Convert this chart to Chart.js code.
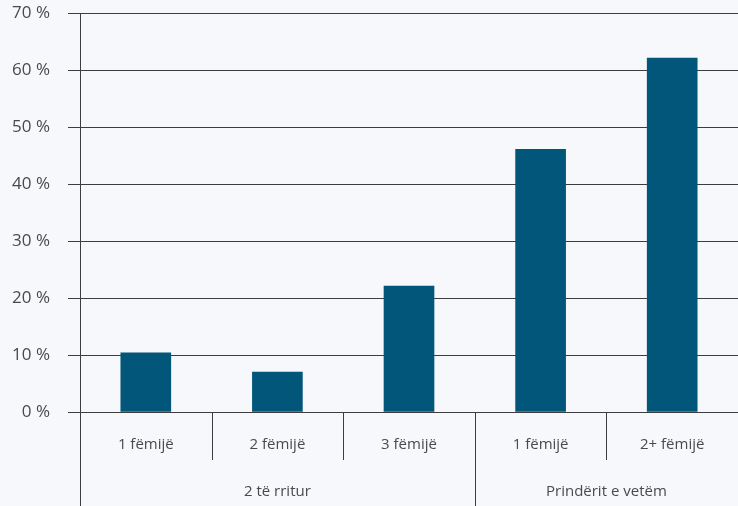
<!DOCTYPE html>
<html lang="sq">
<head>
    <meta charset="UTF-8">
    <title>Fëmijë sipas llojit të familjes</title>
    <style>
        html, body {
            margin: 0;
            padding: 0;
            background-color: #f6f8fb;
        }
        #chart {
            display: block;
        }
    </style>
    <script src="https://cdn.jsdelivr.net/npm/chart.js"></script>
</head>
<body>
    <canvas id="chart" width="738" height="506"></canvas>

    <script>
        // të dhënat
        const categories = ['1 fëmijë', '2 fëmijë', '3 fëmijë', '1 fëmijë', '2+ fëmijë'];
        const groups = ['2 të rritur', '2 të rritur', '2 të rritur', 'Prindërit e vetëm', 'Prindërit e vetëm'];
        const values = [10.4, 7.0, 22.1, 46.1, 62.1];
        const yTicks = [0, 10, 20, 30, 40, 50, 60, 70];

        const textColor = '#4a4a4a';
        const lineColor = '#3d3d3d';
        const font = '15px "Open Sans", sans-serif';

        // boshti x me dy nivele dhe ndarësit
        const groupAxis = {
            id: 'groupAxis',
            afterDraw(chart) {
                const ctx = chart.ctx;
                const area = chart.chartArea;
                const x = chart.scales.x;
                const H = chart.height;
                const n = categories.length;
                const edge = i => {
                    if (i <= 0) return area.left;
                    if (i >= n) return area.right;
                    return (x.getPixelForTick(i - 1) + x.getPixelForTick(i)) / 2;
                };

                ctx.save();
                ctx.strokeStyle = lineColor;
                ctx.lineWidth = 1;
                ctx.beginPath();
                // vija e boshtit y deri poshtë
                const ax = Math.round(area.left) + 0.5;
                ctx.moveTo(ax, area.top);
                ctx.lineTo(ax, H);
                for (let i = 1; i < n; i++) {
                    const px = Math.round(edge(i)) + 0.5;
                    ctx.moveTo(px, area.bottom);
                    ctx.lineTo(px, groups[i] !== groups[i - 1] ? H : area.bottom + 48);
                }
                ctx.stroke();

                ctx.fillStyle = textColor;
                ctx.font = font;
                ctx.textAlign = 'center';
                ctx.textBaseline = 'middle';
                categories.forEach((c, i) => {
                    ctx.fillText(c, x.getPixelForTick(i), area.bottom + 33);
                });

                let start = 0;
                for (let i = 1; i <= n; i++) {
                    if (i === n || groups[i] !== groups[start]) {
                        ctx.fillText(groups[start], (edge(start) + edge(i)) / 2, area.bottom + 80);
                        start = i;
                    }
                }
                ctx.restore();
            }
        };

        new Chart(document.getElementById('chart'), {
            type: 'bar',
            data: {
                labels: categories,
                datasets: [{
                    data: values,
                    backgroundColor: '#01567a',
                    barThickness: 50,
                    borderWidth: 0
                }]
            },
            options: {
                responsive: false,
                animation: false,
                layout: {
                    padding: { top: 13, right: 0, left: 0, bottom: 0 }
                },
                plugins: {
                    legend: { display: false },
                    tooltip: { enabled: false }
                },
                scales: {
                    x: {
                        grid: { display: false },
                        border: { display: false },
                        ticks: { display: false },
                        afterFit(scale) { scale.height = 94; }
                    },
                    y: {
                        min: 0,
                        max: 70,
                        afterBuildTicks(scale) {
                            scale.ticks = yTicks.map(v => ({ value: v }));
                        },
                        afterFit(scale) {
                            scale.width = 80;
                            scale.paddingTop = 0;
                            scale.paddingBottom = 0;
                        },
                        grid: {
                            color: lineColor,
                            lineWidth: 1,
                            drawTicks: true,
                            tickLength: 12
                        },
                        border: { display: false },
                        ticks: {
                            color: textColor,
                            font: { family: '"Open Sans", sans-serif', size: 17 },
                            padding: 18,
                            callback: v => v + ' %'
                        }
                    }
                }
            },
            plugins: [groupAxis]
        });
    </script>
</body>
</html>
